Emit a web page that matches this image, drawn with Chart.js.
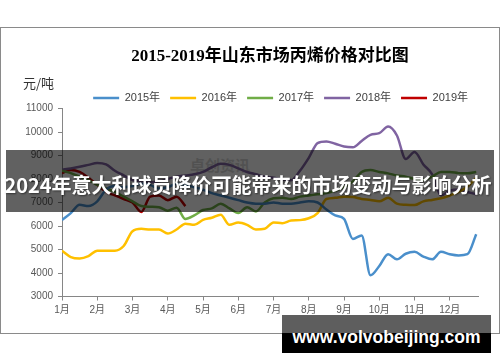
<!DOCTYPE html>
<html>
<head>
<meta charset="utf-8">
<script src="https://cdn.jsdelivr.net/npm/chart.js@4.4.0/dist/chart.umd.min.js"></script>
<style>
  html, body { margin: 0; padding: 0; background: #fff; }
  #wrap { position: relative; width: 500px; height: 362px; overflow: hidden; font-family: "Noto Sans CJK SC", sans-serif; }
  #frame { position: absolute; left: 0; top: 27px; width: 500px; height: 307px; box-sizing: border-box; border: 1px solid #8a8a8a; }
  #mark { position: absolute; left: 190px; top: 156px; font-size: 15px; line-height: 18px; color: #d6d6d6; font-weight: bold; }
  canvas { position: absolute; left: 0; top: 0; }
  #unit { position: absolute; left: 23px; top: 75px; font-size: 13px; line-height: 16px; color: #333; }
  #band { position: absolute; left: 6px; top: 150px; width: 488px; height: 62px; background: rgba(0,0,0,0.62); }
  #bandText { position: absolute; left: 0; top: 172px; width: 496px; text-align: center; color: #fff; font-weight: bold;
              font-size: 20px; line-height: 26px; white-space: nowrap; text-shadow: 1px 1px 2px rgba(0,0,0,0.5); }
  #site { position: absolute; left: 282px; top: 315px; width: 209px; height: 38px;
          background: linear-gradient(to bottom, #5e5e5e 0, #5e5e5e 18px, #000 18px, #000 100%);
          color: #fff; font-family: "Liberation Sans", sans-serif; font-weight: bold; font-size: 17.5px;
          line-height: 20px; text-align: center; box-sizing: border-box; padding-top: 12px; white-space: nowrap; }
</style>
</head>
<body>
<div id="wrap">
  <div id="frame"></div>
  <div id="mark">卓创资讯</div>
  <canvas id="chart" width="500" height="362"></canvas>
  <div id="unit">元/吨</div>
  <div id="band"></div>
  <div id="bandText">2024年意大利球员降价可能带来的市场变动与影响分析</div>
  <div id="site">www.volvobeijing.com</div>
</div>
<script>
const monthLabels = ['1月', '2月', '3月', '4月', '5月', '6月', '7月', '8月', '9月', '10月', '11月', '12月'];

// position of each weekly point, in months from 1月
const weekPos = [
    0, 0.25, 0.5, 0.75, 1, 1.25, 1.5, 1.75, 2, 2.25, 2.5, 2.75,
    3, 3.25, 3.5, 3.75, 4, 4.25, 4.5, 4.75, 5, 5.25, 5.5, 5.75,
    6, 6.25, 6.5, 6.75, 7, 7.25, 7.5, 7.75, 8, 8.25, 8.5, 8.75,
    9, 9.25, 9.5, 9.75, 10, 10.25, 10.5, 10.75, 11, 11.25, 11.5, 11.75
];

const price2015 = [
    6250, 6550, 6900, 6850, 7050, 7550, 7700, 7650, 7700, 7800, 7750, 7600,
    7650, 7800, 7750, 7650, 7550, 7400, 7300, 7200, 7100, 7000, 6950, 6950,
    7000, 6950, 6950, 7000, 7050, 7000, 6700, 6450, 6300, 5450, 5600, 3900,
    4300, 4800, 4580, 4820, 4900, 4700, 4580, 4900, 4800, 4750, 4800, 5650
];
const price2016 = [
    4950, 4680, 4620, 4720, 4950, 4950, 4950, 5150, 5780, 5880, 5850, 5850,
    5680, 5850, 6100, 6050, 6260, 6350, 6480, 6050, 6150, 6050, 5850, 5880,
    6150, 6120, 6230, 6250, 6330, 6550, 7150, 7200, 7250, 7230, 7150, 7110,
    7050, 7200, 6950, 6900, 6890, 7050, 7110, 7180, 7300, 7450, 7670, 8050
];
const price2017 = [
    8350, 8250, 8100, 7950, 7750, 7600, 7450, 7250, 7050, 6850, 6820, 6800,
    6650, 6780, 6300, 6450, 6680, 6750, 6950, 6750, 6550, 6800, 6620, 7000,
    7180, 7200, 7150, 7250, 7300, 7350, 7400, 7500, 7650, 7900, 8300, 8380,
    8300, 8240, 8150, 8100, 8000, 7960, 8100, 8300, 8300, 8250, 8240, 8300
];
const price2018 = [
    8400, 8450, 8520, 8600, 8680, 8620, 8350, 8150, 7950, 7900, 7850, 7900,
    8000, 8100, 8150, 8200, 8300, 8500, 8650, 8600, 8450, 8300, 8200, 8100,
    8050, 7980, 7950, 8350, 8900, 9530, 9600, 9500, 9380, 9350, 9620, 9880,
    9950, 10230, 9850, 8850, 9150, 8620, 8200, 7300, 7500, 7550, 7450, 7350
];
const price2019 = [
    8250, 8380, 8300, 8050, 7750, 7450, 7300, 7150, 7000, 6600, 7250, 7300,
    7100, 7250, 6850
];

const seriesNames = ['2015年', '2016年', '2017年', '2018年', '2019年'];
const seriesColors = ['#4a8fcb', '#ffc000', '#70ad47', '#8064a2', '#c00000'];
const seriesValues = [price2015, price2016, price2017, price2018, price2019];

Chart.defaults.font.family = "'Liberation Sans', 'Noto Sans CJK SC', sans-serif";

const datasets = seriesValues.map((vals, i) => ({
    label: seriesNames[i],
    data: vals.map((v, k) => ({ x: weekPos[k], y: v })),
    borderColor: seriesColors[i],
    backgroundColor: seriesColors[i],
    borderWidth: 2.5,
    pointRadius: 0,
    cubicInterpolationMode: 'monotone',
    fill: false
}));

new Chart(document.getElementById('chart'), {
    type: 'line',
    data: { datasets: datasets },
    options: {
        responsive: false,
        animation: false,
        layout: {
            padding: { left: 22, right: 22, top: 0, bottom: 35.5 }
        },
        plugins: {
            title: {
                display: true,
                fullSize: false,
                text: '2015-2019年山东市场丙烯价格对比图',
                color: '#000',
                font: { size: 17, weight: 'bold', family: "'Liberation Serif', 'Noto Sans CJK SC', serif" },
                padding: { top: 46.8, bottom: 15.3 }
            },
            legend: {
                position: 'top',
                align: 'end',
                maxHeight: 26,
                labels: {
                    usePointStyle: true,
                    pointStyle: 'line',
                    pointStyleWidth: 26,
                    boxHeight: 11,
                    padding: 10,
                    color: '#404040',
                    font: { size: 11 }
                }
            },
            tooltip: { enabled: false }
        },
        scales: {
            x: {
                type: 'linear',
                min: 0,
                max: 11.8,
                afterFit: function(scale) { scale.height = 30; },
                border: { color: '#868686' },
                grid: { drawOnChartArea: false, tickLength: 4, color: '#868686' },
                ticks: {
                    stepSize: 1,
                    includeBounds: false,
                    autoSkip: false,
                    maxRotation: 0,
                    padding: 4,
                    color: '#595959',
                    font: { size: 10 },
                    callback: function(value) {
                        return monthLabels[value];
                    }
                }
            },
            y: {
                min: 3000,
                max: 11000,
                afterFit: function(scale) { scale.width = 40; },
                border: { color: '#868686' },
                grid: { drawOnChartArea: false, tickLength: 4, color: '#868686' },
                ticks: {
                    stepSize: 1000,
                    padding: 5,
                    color: '#595959',
                    font: { size: 10 },
                    callback: function(value) {
                        return String(value);
                    }
                }
            }
        }
    }
});
</script>
</body>
</html>
